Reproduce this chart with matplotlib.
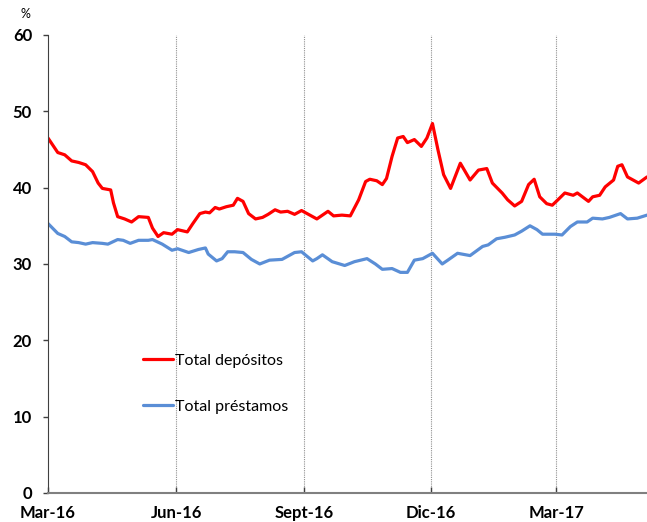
import numpy as np
import matplotlib
matplotlib.use('Agg')
import matplotlib.pyplot as plt

# días desde 1-mar-2016
dep_days = [0, 7, 12, 17, 22, 27, 32, 36, 39, 45, 47, 50, 55, 60, 65, 72, 75, 79, 83, 89,
            93, 100, 104, 109, 113, 116, 120, 123, 128, 133, 136, 140, 144, 149, 154, 158,
            163, 167, 172, 177, 182, 187, 193, 197, 201, 205, 211, 217, 223, 228, 231, 236,
            240, 243, 247, 251, 255, 258, 263, 268, 272, 276, 280, 284, 289, 296, 303, 309,
            315, 319, 326, 330, 335, 340, 345, 349, 353, 358, 362, 366, 371, 377, 380, 388,
            391, 396, 400, 406, 409, 412, 416, 424, 430]
dep_vals = [46.5, 44.6, 44.3, 43.5, 43.3, 43.0, 42.1, 40.6, 39.9, 39.7, 38.0, 36.2, 35.9, 35.5,
            36.2, 36.1, 34.7, 33.6, 34.1, 33.9, 34.5, 34.2, 35.3, 36.6, 36.8, 36.7, 37.4, 37.2,
            37.5, 37.7, 38.6, 38.2, 36.6, 35.9, 36.1, 36.5, 37.1, 36.8, 36.9, 36.5, 37.0, 36.5,
            35.9, 36.4, 36.9, 36.3, 36.4, 36.3, 38.4, 40.8, 41.1, 40.9, 40.4, 41.2, 44.1, 46.5,
            46.7, 45.9, 46.3, 45.4, 46.5, 48.4, 44.9, 41.7, 39.9, 43.2, 41.0, 42.3, 42.5, 40.6,
            39.3, 38.4, 37.6, 38.2, 40.4, 41.1, 38.8, 37.9, 37.7, 38.4, 39.3, 39.0, 39.3, 38.2,
            38.8, 39.0, 40.1, 41.0, 42.8, 43.0, 41.4, 40.6, 41.4]

pre_days = [0, 7, 12, 17, 22, 27, 32, 39, 43, 50, 54, 59, 65, 72, 75, 82, 89, 93, 101, 108,
            113, 115, 121, 125, 129, 134, 140, 146, 152, 159, 168, 172, 177, 182, 190, 193,
            197, 204, 213, 220, 229, 235, 240, 247, 253, 258, 263, 269, 276, 283, 287, 294,
            303, 312, 316, 322, 328, 335, 340, 346, 351, 355, 364, 369, 375, 380, 387, 391,
            398, 403, 411, 416, 423, 430]
pre_vals = [35.3, 34.0, 33.6, 32.9, 32.8, 32.6, 32.8, 32.7, 32.6, 33.2, 33.1, 32.7, 33.1, 33.1,
            33.2, 32.6, 31.8, 32.0, 31.5, 31.9, 32.1, 31.3, 30.4, 30.7, 31.6, 31.6, 31.5, 30.6,
            30.0, 30.5, 30.6, 31.0, 31.5, 31.6, 30.4, 30.7, 31.2, 30.3, 29.8, 30.3, 30.7, 30.0,
            29.3, 29.4, 28.9, 28.9, 30.5, 30.7, 31.4, 30.0, 30.5, 31.4, 31.1, 32.3, 32.5, 33.3,
            33.5, 33.8, 34.3, 35.0, 34.5, 33.9, 33.9, 33.8, 34.9, 35.5, 35.5, 36.0, 35.9, 36.1,
            36.6, 35.9, 36.0, 36.4]

tick_days = [0, 92, 184, 275, 365]
tick_labels = ['Mar-16', 'Jun-16', 'Sept-16', 'Dic-16', 'Mar-17']

plt.rcParams['font.family'] = ['Lato', 'DejaVu Sans']

fig = plt.figure(figsize=(6.47, 5.22), dpi=100)
ax = fig.add_axes([0.0742, 0.0556, 0.9258, 0.8774])

ax.plot(dep_days, dep_vals, color='#FF0000', lw=2.3, solid_joinstyle='round',
        solid_capstyle='round', label='Total depósitos')
ax.plot(pre_days, pre_vals, color='#5A8ED6', lw=2.3, solid_joinstyle='round',
        solid_capstyle='round', label='Total préstamos')

for d in tick_days[1:]:
    ax.axvline(d, color='#909090', lw=0.8, ls=(0, (1, 1)), zorder=0)

ax.set_xlim(0, 430)
ax.set_ylim(0, 60)
ax.set_yticks(range(0, 61, 10))
ax.set_xticks(tick_days)
ax.set_xticklabels(tick_labels)

for lab in ax.get_xticklabels() + ax.get_yticklabels():
    lab.set_fontweight('bold')
    lab.set_fontsize(12)

ax.tick_params(axis='y', direction='out', length=3.5, width=1, color='#404040', pad=8)
ax.tick_params(axis='x', direction='in', length=4, width=1, color='#404040', pad=9)

ax.spines['top'].set_visible(False)
ax.spines['right'].set_visible(False)
ax.spines['left'].set_color('#404040')
ax.spines['bottom'].set_color('#808080')
ax.spines['bottom'].set_linewidth(1.5)

fig.text(0.040, 0.985, '%', fontsize=9, ha='center', va='top')

ax.legend(loc='center left', bbox_to_anchor=(0.158, 0.239), frameon=False,
          fontsize=11.5, handlelength=1.9, handletextpad=0.1, labelspacing=2.0,
          borderpad=0, borderaxespad=0)

fig.savefig('out.png', dpi=100)
